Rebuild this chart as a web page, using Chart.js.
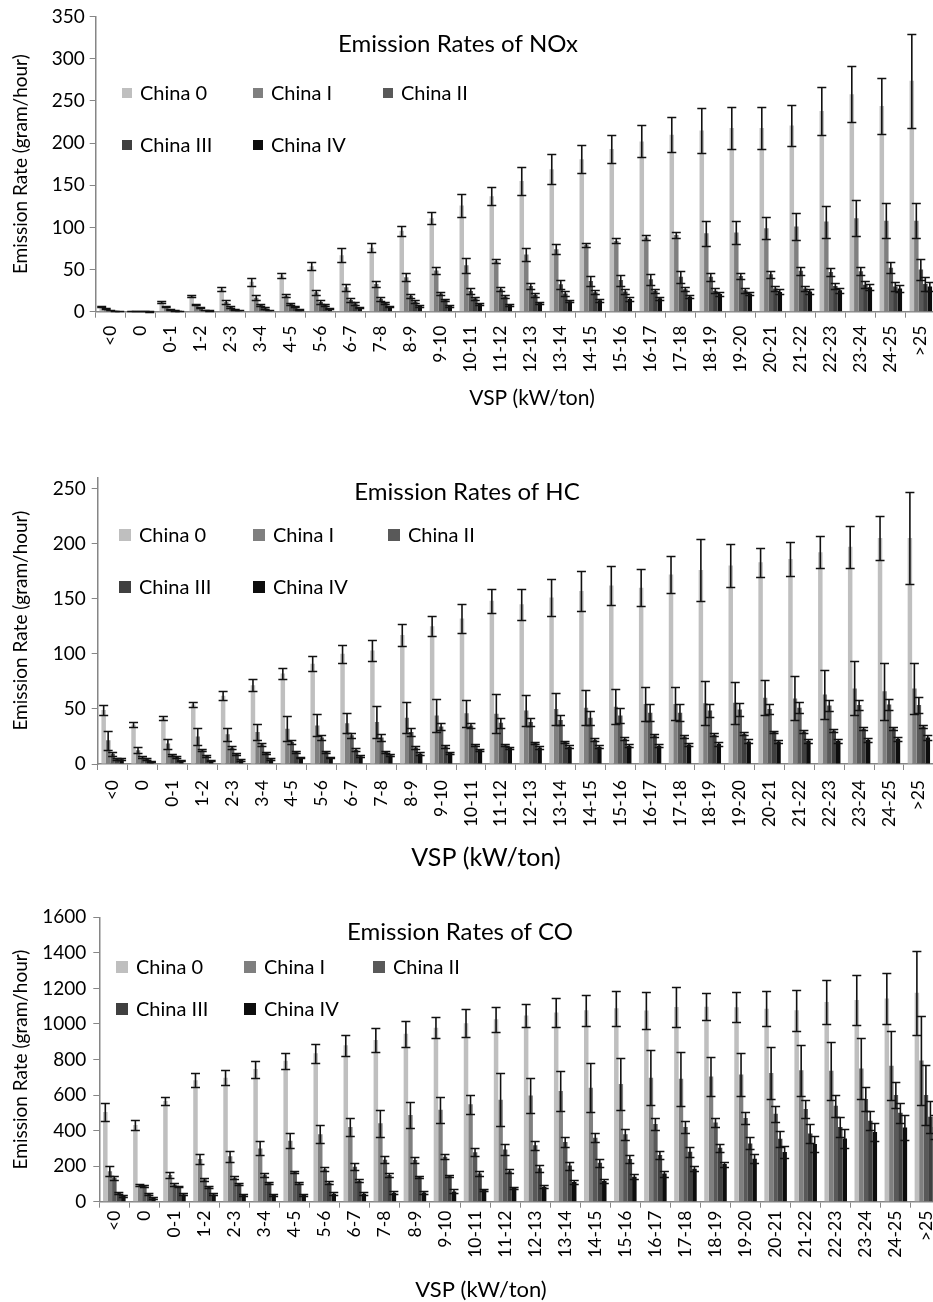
<!DOCTYPE html>
<html>
<head>
<meta charset="utf-8">
<title>Emission Rates</title>
<script src="https://cdn.jsdelivr.net/npm/chart.js@4.4.1/dist/chart.umd.min.js"></script>
<style>
  html, body { margin: 0; padding: 0; background: #fff; overflow: hidden; }
  body { width: 933px; height: 1302px; position: relative; }
  canvas { position: absolute; left: 0; }
</style>
</head>
<body>
<canvas id="nox" width="950" height="420" style="top:0px;width:950px;height:420px"></canvas>
<canvas id="hc" width="950" height="425" style="top:460px;width:950px;height:425px"></canvas>
<canvas id="co" width="950" height="407" style="top:895px;width:950px;height:407px"></canvas>
<script>
const vspBins = ["<0", "0", "0-1", "1-2", "2-3", "3-4", "4-5", "5-6", "6-7", "7-8", "8-9", "9-10",
  "10-11", "11-12", "12-13", "13-14", "14-15", "15-16", "16-17", "17-18", "18-19", "19-20",
  "20-21", "21-22", "22-23", "23-24", "24-25", ">25"];

const seriesNames = ["China 0", "China I", "China II", "China III", "China IV"];
const seriesColors = ["#bfbfbf", "#7f7f7f", "#595959", "#404040", "#0d0d0d"];

// NOx (gram/hour)
const nox0 = [6, 1, 11.5, 18.5, 26.5, 35.5, 43, 54, 67, 76, 96, 111, 126, 137, 155, 169, 181, 193, 202, 210, 215, 218, 218, 221, 238, 258, 244, 274];
const nox0Err = [1, 0.3, 1.5, 1.5, 2.5, 5, 2.5, 5, 8, 5.5, 6, 7, 14, 10.5, 17, 18, 17, 17, 19, 21, 27, 24.5, 24.5, 24, 28.5, 33, 33, 56];
const nox1 = [3.5, 0.7, 6, 8.5, 11.5, 16.5, 19, 23, 29, 33, 41, 49, 55, 60, 68, 74, 79.5, 84, 88, 91, 93, 94, 99, 101, 107, 111, 108, 108];
const nox1Err = [0.5, 0.2, 1, 1, 2, 3, 2, 3, 4, 4, 5, 4, 9, 2.5, 8, 6, 2.5, 3, 3, 3, 14.5, 14, 13, 16, 19, 21, 21, 21];
const nox2 = [2, 0.5, 3, 5, 5.5, 8, 9, 11.5, 14, 15.5, 19, 21.5, 24.5, 26.5, 30.5, 32.5, 36.5, 37.5, 38.5, 41.5, 41.5, 42.5, 44.5, 48.5, 47, 48, 52, 50];
const nox2Err = [0.3, 0.1, 0.5, 1, 1, 1.5, 1.5, 2, 2, 2.5, 2.5, 2, 4, 2.5, 3, 5, 6, 6.5, 6.5, 7, 5, 4, 4, 4.5, 5, 5, 6.5, 12.5];
const nox3 = [1, 0.4, 1.5, 2, 3, 4, 6, 8, 10, 10.5, 12, 14, 16, 18, 20, 21.5, 23, 24, 25, 26.5, 25, 25.5, 27.5, 27.5, 30.5, 32, 30, 33];
const nox3Err = [0.2, 0.1, 0.3, 0.5, 0.5, 1, 1, 1.5, 1.5, 1.5, 1.5, 1.5, 2, 2, 2, 2.5, 2.5, 2.5, 2.5, 2.5, 3, 3, 2.5, 3, 3, 4, 5, 8];
const nox4 = [0.8, 0.3, 1, 1.5, 2, 2, 3, 4, 5, 6, 7, 7, 9, 8, 10.5, 12.5, 13.5, 15, 16, 18, 21, 21.5, 23.5, 24, 25.5, 29, 27.5, 30];
const nox4Err = [0.2, 0.1, 0.2, 0.3, 0.5, 0.5, 0.5, 0.8, 1, 1, 1, 1, 1.5, 1.5, 1.5, 1.5, 1.5, 2, 2, 2, 2, 2, 3, 3, 3, 3.5, 4, 5];

// HC (gram/hour)
const hc0 = [49, 35.5, 41.5, 54, 62, 71.5, 82, 91, 100, 103, 117, 125, 132, 148, 145, 151, 157, 162, 160, 172, 176, 180, 183, 186, 192, 197, 205, 205];
const hc0Err = [4.5, 2.3, 2, 2.5, 4, 5.3, 4.7, 6.8, 8.4, 9.3, 9.8, 9, 13, 10.7, 14, 17, 18, 17.5, 16.7, 17, 27.7, 19.6, 13, 15, 14.5, 19, 20, 42];
const hc1 = [21.5, 12.5, 18.5, 25, 27, 29, 32, 35, 37, 38, 42, 44, 46, 45.5, 48.5, 50, 51, 52, 54.5, 54.5, 55, 55.5, 60, 59.5, 63, 68.5, 66, 68.5];
const hc1Err = [8.5, 2.5, 4.5, 7.8, 6, 7, 11.5, 10, 9, 14.5, 14, 15, 12.5, 17.8, 14, 14.5, 15.7, 16, 15.4, 15, 20, 19, 16, 20, 22, 24.5, 26, 23];
const hc2 = [9.3, 6, 8, 12.5, 15, 18, 20, 24, 26, 24, 29, 34, 35, 37.5, 38, 40, 42, 44, 46.5, 46.5, 48.5, 49.5, 50, 51, 53, 53.5, 54, 53.5];
const hc2Err = [2, 1, 1, 1, 1, 1.5, 1.5, 2, 2, 3, 4, 3, 2, 4.5, 3.6, 4.4, 6.5, 7, 7.5, 7.5, 5.7, 6, 4.5, 5, 4.8, 4.8, 5, 7.5];
const hc3 = [4.8, 4.8, 6.5, 7.5, 9, 10, 11, 11, 13, 11, 15, 16, 17, 17, 19, 20, 22, 23, 26, 25, 26.5, 27.5, 29, 29.5, 30.5, 32, 32.5, 34];
const hc3Err = [1, 0.8, 1, 1, 1, 1, 1.2, 1.2, 1.2, 1.2, 1.2, 1.2, 1, 1, 1.2, 1.2, 1.2, 1.2, 1.2, 1.2, 1.2, 1.2, 1.2, 1.2, 1.4, 1.3, 1.3, 1.5];
const hc4 = [4.2, 2, 3, 3, 3.6, 4.2, 6, 6, 7, 8, 9.6, 10, 13, 14.5, 15, 15.7, 15.7, 16.5, 16.5, 17.8, 18.4, 20.5, 20.5, 21, 21, 22, 23, 24];
const hc4Err = [0.8, 0.5, 0.6, 0.6, 0.7, 0.8, 0.8, 0.8, 0.8, 1, 1, 1.2, 1, 1.2, 1.2, 1.2, 1.5, 1.5, 1.5, 1.5, 2, 1.8, 1.5, 1.8, 1.8, 1.8, 1.8, 2];

// CO (gram/hour)
const co0 = [505, 431, 566, 683, 698, 746, 793, 835, 880, 910, 945, 979, 1004, 1026, 1047, 1064, 1077, 1088, 1075, 1095, 1097, 1094, 1086, 1077, 1124, 1135, 1143, 1175];
const co0Err = [50, 28, 24, 40, 41, 48, 46, 52, 59, 70, 73, 59, 79, 72, 66, 80, 87, 99, 102, 114, 75, 83, 97, 114, 125, 141, 144, 235];
const co1 = [172, 96, 150, 240, 255, 300, 343, 379, 420, 441, 488, 518, 548, 574, 598, 623, 641, 662, 698, 692, 705, 715, 724, 739, 737, 750, 765, 795];
const co1Err = [29, 6, 16, 28, 33, 39, 42, 50, 50, 75, 75, 73, 53, 148, 100, 112, 137, 145, 153, 153, 111, 120, 145, 142, 164, 173, 195, 250];
const co2 = [135, 88, 97, 126, 135, 152, 167, 182, 197, 236, 234, 253, 278, 293, 317, 336, 360, 379, 437, 420, 445, 471, 495, 521, 540, 578, 600, 600];
const co2Err = [12, 5, 6, 8, 10, 12, 8, 12, 19, 20, 19, 15, 23, 30, 26, 26, 25, 31, 33, 35, 25, 34, 46, 52, 61, 65, 75, 170];
const co3 = [49, 45, 86, 82, 99, 105, 103, 107, 118, 150, 139, 144, 158, 171, 188, 203, 219, 240, 263, 281, 304, 328, 354, 383, 420, 456, 500, 478];
const co3Err = [6, 6, 5, 6, 7, 7, 6, 7, 8, 10, 8, 7, 12, 11, 19, 23, 22, 23, 24, 28, 22, 34, 45, 54, 58, 52, 55, 90];
const co4 = [34, 22, 41, 41, 39, 39, 39, 45, 45, 51, 52, 58, 66, 77, 84, 111, 116, 141, 158, 186, 212, 242, 279, 324, 355, 392, 418, 420];
const co4Err = [6, 4, 6, 6, 7, 7, 7, 7, 7, 9, 10, 11, 6, 8, 8, 12, 12, 15, 17, 16, 14, 26, 35, 46, 53, 53, 70, 70];

Chart.defaults.font.family = "Lato, 'Open Sans', sans-serif";
Chart.defaults.color = "#000";

// error bars are not built into Chart.js, draw them over the bars
const errorBars = {
  id: "errorBars",
  afterDatasetsDraw(chart) {
    const ctx = chart.ctx;
    const y = chart.scales.y;
    ctx.save();
    ctx.strokeStyle = "#111";
    ctx.lineWidth = 1.6;
    chart.data.datasets.forEach((ds, i) => {
      const meta = chart.getDatasetMeta(i);
      meta.data.forEach((bar, j) => {
        const v = ds.data[j], e = ds.errors[j];
        const top = Math.round(y.getPixelForValue(v + e)) + 0.5;
        const bot = Math.round(y.getPixelForValue(Math.max(0, v - e))) + 0.5;
        const x = bar.x;
        ctx.beginPath();
        ctx.moveTo(x, top); ctx.lineTo(x, bot);
        ctx.moveTo(x - 4.5, top); ctx.lineTo(x + 4.5, top);
        ctx.moveTo(x - 4.5, bot); ctx.lineTo(x + 4.5, bot);
        ctx.stroke();
      });
    });
    ctx.restore();
  }
};

// title, legend and x title sit inside the plot like in the Excel original
const overlayText = {
  id: "overlayText",
  afterDraw(chart, args, o) {
    const ctx = chart.ctx;
    ctx.save();
    ctx.textBaseline = "middle";
    ctx.fillStyle = "#000";
    ctx.textAlign = "center";
    ctx.font = `${o.titleSize}px Lato`;
    ctx.fillText(o.title, o.titleX, o.titleY);
    ctx.font = `${o.xTitleSize}px Lato`;
    ctx.fillText(o.xTitle, o.xTitleX, o.xTitleY);
    ctx.textAlign = "left";
    ctx.font = `${o.legendSize}px Lato`;
    chart.data.datasets.forEach((ds, i) => {
      const x = o.legendCols[i % 3], yy = o.legendRows[Math.floor(i / 3)];
      ctx.fillStyle = ds.backgroundColor;
      ctx.fillRect(x, yy - o.box / 2, o.box, o.box);
      ctx.fillStyle = "#000";
      ctx.fillText(ds.label, x + o.box + 8, yy + 1);
    });
    ctx.restore();
  }
};

function buildDatasets(values, errors) {
  return values.map((v, i) => ({
    label: seriesNames[i],
    data: v,
    errors: errors[i],
    backgroundColor: seriesColors[i],
    categoryPercentage: 0.75,
    barPercentage: 1.0
  }));
}

function makeChart(id, datasets, p) {
  return new Chart(document.getElementById(id), {
    type: "bar",
    data: { labels: vspBins, datasets },
    plugins: [errorBars, overlayText],
    options: {
      responsive: false,
      animation: false,
      layout: { padding: { top: p.top, right: p.right, left: 0, bottom: 0 } },
      plugins: {
        legend: { display: false },
        tooltip: { enabled: false },
        overlayText: p.text
      },
      scales: {
        x: {
          grid: { drawOnChartArea: false, drawTicks: true, tickLength: 6, color: "#868686", offset: true },
          border: { color: "#868686", width: 1.5 },
          ticks: { autoSkip: false, minRotation: 90, maxRotation: 90, padding: p.xPad, font: { size: 17.5 }, color: "#000" },
          afterFit(scale) { scale.height = p.xHeight; }
        },
        y: {
          min: 0,
          max: p.max,
          ticks: { padding: p.yPad, font: { size: 19 }, color: "#000", callback: v => String(v) },
          afterBuildTicks(scale) {
            const t = [];
            for (let v = 0; v <= p.max; v += p.step) t.push({ value: v });
            scale.ticks = t;
          },
          grid: { drawOnChartArea: false, drawTicks: true, tickLength: 6, color: "#868686" },
          border: { color: "#868686", width: 1.5 },
          title: { display: true, text: "Emission Rate (gram/hour)", font: { size: 19 }, color: "#000", padding: { top: 9, bottom: 0 } },
          afterFit(scale) { scale.width = p.yWidth; }
        }
      }
    }
  });
}

makeChart("nox",
  buildDatasets([nox0, nox1, nox2, nox3, nox4], [nox0Err, nox1Err, nox2Err, nox3Err, nox4Err]),
  {
    top: 16.7, right: 10, max: 350, step: 50, xHeight: 108.3, yWidth: 95.7, xPad: 8, yPad: 5,
    text: {
      title: "Emission Rates of NOx", titleX: 458, titleY: 44, titleSize: 24,
      xTitle: "VSP (kW/ton)", xTitleX: 532, xTitleY: 398, xTitleSize: 21,
      legendCols: [122, 253, 383], legendRows: [93, 145], legendSize: 20, box: 10
    }
  });

makeChart("hc",
  buildDatasets([hc0, hc1, hc2, hc3, hc4], [hc0Err, hc1Err, hc2Err, hc3Err, hc4Err]),
  {
    top: 16, right: 8, max: 260, step: 50, xHeight: 121, yWidth: 97.7, xPad: 10, yPad: 6,
    text: {
      title: "Emission Rates of HC", titleX: 467, titleY: 32, titleSize: 24,
      xTitle: "VSP (kW/ton)", xTitleX: 486, xTitleY: 398, xTitleSize: 25,
      legendCols: [119, 253, 388], legendRows: [75, 127], legendSize: 20, box: 12
    }
  });

makeChart("co",
  buildDatasets([co0, co1, co2, co3, co4], [co0Err, co1Err, co2Err, co3Err, co4Err]),
  {
    top: 22.3, right: 5, max: 1600, step: 200, xHeight: 100.3, yWidth: 99.3, xPad: 3, yPad: 7,
    text: {
      title: "Emission Rates of CO", titleX: 460, titleY: 37, titleSize: 24,
      xTitle: "VSP (kW/ton)", xTitleX: 481, xTitleY: 395, xTitleSize: 22,
      legendCols: [116, 244, 373], legendRows: [72, 114], legendSize: 20, box: 12
    }
  });
</script>
</body>
</html>
